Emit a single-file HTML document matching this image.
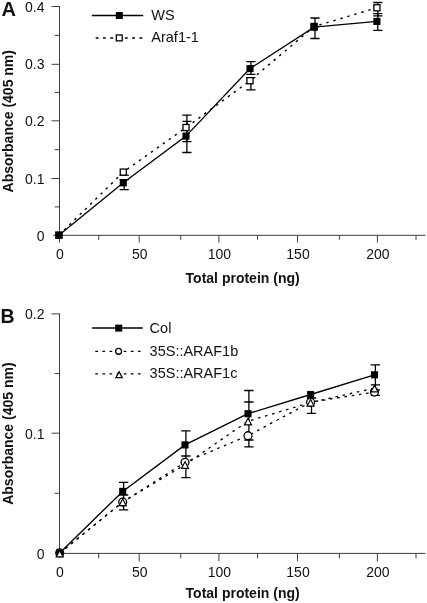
<!DOCTYPE html>
<html lang="en">
<head>
<meta charset="utf-8">
<title>Figure</title>
<style>
html,body{margin:0;padding:0;background:#fff;}
body{width:427px;height:603px;overflow:hidden;}
svg{display:block;will-change:transform;}
text{font-family:"Liberation Sans",sans-serif;fill:#111;}
.t{font-size:14px;}
.l{font-size:14.5px;}
.b{font-size:14px;font-weight:bold;}
.p{font-size:19.5px;font-weight:bold;}
.pa{font-size:20px;}
</style>
</head>
<body>
<svg width="427" height="603" viewBox="0 0 427 603">
<rect width="427" height="603" fill="#fff"/>
<path d="M59.5 6.0 V235.3 M59.0 235.3 H425.5" fill="none" stroke="#3e3e3e" stroke-width="1"/>
<path d="M53.1 235.30 H59.5" stroke="#3e3e3e" stroke-width="1"/>
<text x="44.5" y="240.80" text-anchor="end" class="t">0</text>
<path d="M54.7 206.90 H59.5" stroke="#3e3e3e" stroke-width="1"/>
<path d="M51.5 178.50 H59.5" stroke="#3e3e3e" stroke-width="1"/>
<text x="44.5" y="183.70" text-anchor="end" class="t">0.1</text>
<path d="M54.7 149.65 H59.5" stroke="#3e3e3e" stroke-width="1"/>
<path d="M51.5 120.80 H59.5" stroke="#3e3e3e" stroke-width="1"/>
<text x="44.5" y="126.10" text-anchor="end" class="t">0.2</text>
<path d="M54.7 92.55 H59.5" stroke="#3e3e3e" stroke-width="1"/>
<path d="M51.5 64.30 H59.5" stroke="#3e3e3e" stroke-width="1"/>
<text x="44.5" y="69.20" text-anchor="end" class="t">0.3</text>
<path d="M54.7 35.40 H59.5" stroke="#3e3e3e" stroke-width="1"/>
<path d="M51.5 6.50 H59.5" stroke="#3e3e3e" stroke-width="1"/>
<text x="44.5" y="12.30" text-anchor="end" class="t">0.4</text>
<path d="M59.50 235.3 v7.2" stroke="#3e3e3e" stroke-width="1"/>
<text x="60.00" y="259.20" text-anchor="middle" class="t">0</text>
<path d="M98.70 235.3 v4.5" stroke="#3e3e3e" stroke-width="1"/>
<path d="M139.20 235.3 v7.2" stroke="#3e3e3e" stroke-width="1"/>
<text x="139.70" y="259.20" text-anchor="middle" class="t">50</text>
<path d="M180.70 235.3 v4.5" stroke="#3e3e3e" stroke-width="1"/>
<path d="M218.90 235.3 v7.2" stroke="#3e3e3e" stroke-width="1"/>
<text x="219.40" y="259.20" text-anchor="middle" class="t">100</text>
<path d="M257.50 235.3 v4.5" stroke="#3e3e3e" stroke-width="1"/>
<path d="M297.50 235.3 v7.2" stroke="#3e3e3e" stroke-width="1"/>
<text x="298.00" y="259.20" text-anchor="middle" class="t">150</text>
<path d="M339.40 235.3 v4.5" stroke="#3e3e3e" stroke-width="1"/>
<path d="M377.40 235.3 v7.2" stroke="#3e3e3e" stroke-width="1"/>
<text x="377.90" y="259.20" text-anchor="middle" class="t">200</text>
<path d="M416.00 235.3 v4.5" stroke="#3e3e3e" stroke-width="1"/>
<path d="M58.90 235.20 L123.30 172.10 L186.00 127.50 L250.00 80.70 L314.10 26.50 L376.90 7.80" fill="none" stroke="#000" stroke-width="1.45" stroke-dasharray="2.4 4.9"/>
<path d="M58.90 235.20 L123.30 182.80 L186.00 136.10 L250.00 68.60 L314.10 27.20 L376.90 21.40" fill="none" stroke="#000" stroke-width="1.35"/>
<path d="M124.20 171.00 V175.20 M119.60 175.20 h9.2" fill="none" stroke="#000" stroke-width="1.3"/>
<path d="M186.90 115.10 V141.60 M182.30 115.10 h9.2 M182.30 141.60 h9.2" fill="none" stroke="#000" stroke-width="1.3"/>
<path d="M250.90 77.60 V89.80 M246.30 77.60 h9.2 M246.30 89.80 h9.2" fill="none" stroke="#000" stroke-width="1.3"/>
<path d="M377.80 2.50 V15.90 M373.20 2.50 h9.2 M373.20 15.90 h9.2" fill="none" stroke="#000" stroke-width="1.3"/>
<path d="M124.20 179.60 V189.70 M119.60 179.60 h9.2 M119.60 189.70 h9.2" fill="none" stroke="#000" stroke-width="1.3"/>
<path d="M186.90 121.40 V152.50 M182.30 121.40 h9.2 M182.30 152.50 h9.2" fill="none" stroke="#000" stroke-width="1.3"/>
<path d="M250.90 61.70 V74.40 M246.30 61.70 h9.2 M246.30 74.40 h9.2" fill="none" stroke="#000" stroke-width="1.3"/>
<path d="M315.00 18.00 V38.50 M310.40 18.00 h9.2 M310.40 38.50 h9.2" fill="none" stroke="#000" stroke-width="1.3"/>
<path d="M377.80 13.60 V30.40 M373.20 13.60 h9.2 M373.20 30.40 h9.2" fill="none" stroke="#000" stroke-width="1.3"/>
<rect x="55.85" y="232.15" width="6.1000000000000005" height="6.1000000000000005" fill="#fff" stroke="#000" stroke-width="1.3"/>
<rect x="120.25" y="169.05" width="6.1000000000000005" height="6.1000000000000005" fill="#fff" stroke="#000" stroke-width="1.3"/>
<rect x="182.95" y="124.45" width="6.1000000000000005" height="6.1000000000000005" fill="#fff" stroke="#000" stroke-width="1.3"/>
<rect x="246.95" y="77.65" width="6.1000000000000005" height="6.1000000000000005" fill="#fff" stroke="#000" stroke-width="1.3"/>
<rect x="311.05" y="23.45" width="6.1000000000000005" height="6.1000000000000005" fill="#fff" stroke="#000" stroke-width="1.3"/>
<rect x="373.85" y="4.75" width="6.1000000000000005" height="6.1000000000000005" fill="#fff" stroke="#000" stroke-width="1.3"/>
<rect x="55.35" y="231.65" width="7.1" height="7.1" fill="#000"/>
<rect x="119.75" y="179.25" width="7.1" height="7.1" fill="#000"/>
<rect x="182.45" y="132.55" width="7.1" height="7.1" fill="#000"/>
<rect x="246.45" y="65.05" width="7.1" height="7.1" fill="#000"/>
<rect x="310.55" y="23.65" width="7.1" height="7.1" fill="#000"/>
<rect x="373.35" y="17.85" width="7.1" height="7.1" fill="#000"/>
<path d="M91.8 15.5 H143.2" stroke="#000" stroke-width="1.5"/>
<rect x="115.80" y="12.00" width="7" height="7" fill="#000"/>
<path d="M95.7 38 H142.3" stroke="#000" stroke-width="1.5" stroke-dasharray="2.8 4.5"/>
<rect x="116.30" y="34.95" width="5.9" height="5.9" fill="#fff" stroke="#000" stroke-width="1.3"/>
<text x="151.3" y="20.2" class="l">WS</text>
<text x="151.3" y="42.2" class="l">Araf1-1</text>
<text x="1.4" y="15.8" class="p pa">A</text>
<text x="185.6" y="283.4" class="b">Total protein (ng)</text>
<text transform="translate(12.6 121.2) rotate(-90)" text-anchor="middle" class="b">Absorbance (405 nm)</text>
<path d="M59.5 313.4 V553.4 M59.0 553.4 H425.5" fill="none" stroke="#3e3e3e" stroke-width="1"/>
<text x="44.5" y="559.00" text-anchor="end" class="t">0</text>
<path d="M54.7 493.30 H59.5" stroke="#3e3e3e" stroke-width="1"/>
<path d="M51.5 433.20 H59.5" stroke="#3e3e3e" stroke-width="1"/>
<text x="44.5" y="438.60" text-anchor="end" class="t">0.1</text>
<path d="M54.7 373.55 H59.5" stroke="#3e3e3e" stroke-width="1"/>
<path d="M51.5 313.90 H59.5" stroke="#3e3e3e" stroke-width="1"/>
<text x="44.5" y="319.30" text-anchor="end" class="t">0.2</text>
<text x="60.00" y="576.80" text-anchor="middle" class="t">0</text>
<path d="M98.70 553.4 v5.0" stroke="#3e3e3e" stroke-width="1"/>
<path d="M139.20 553.4 v7.9" stroke="#3e3e3e" stroke-width="1"/>
<text x="139.70" y="576.80" text-anchor="middle" class="t">50</text>
<path d="M180.70 553.4 v5.0" stroke="#3e3e3e" stroke-width="1"/>
<path d="M218.90 553.4 v7.9" stroke="#3e3e3e" stroke-width="1"/>
<text x="219.40" y="576.80" text-anchor="middle" class="t">100</text>
<path d="M257.50 553.4 v5.0" stroke="#3e3e3e" stroke-width="1"/>
<path d="M297.50 553.4 v7.9" stroke="#3e3e3e" stroke-width="1"/>
<text x="298.00" y="576.80" text-anchor="middle" class="t">150</text>
<path d="M339.40 553.4 v5.0" stroke="#3e3e3e" stroke-width="1"/>
<path d="M377.40 553.4 v7.9" stroke="#3e3e3e" stroke-width="1"/>
<text x="377.90" y="576.80" text-anchor="middle" class="t">200</text>
<path d="M416.00 553.4 v5.0" stroke="#3e3e3e" stroke-width="1"/>
<path d="M59.70 552.90 L122.70 502.10 L185.00 462.30 L248.00 435.70 L310.60 402.20 L374.50 392.10" fill="none" stroke="#000" stroke-width="1.3" stroke-dasharray="2.6 4.7"/>
<path d="M59.70 553.30 L122.70 502.00 L185.00 464.70 L248.00 421.20 L310.60 402.50 L374.50 388.20" fill="none" stroke="#000" stroke-width="1.3" stroke-dasharray="2.6 4.7"/>
<path d="M59.70 552.90 L122.70 491.40 L185.00 444.90 L248.00 413.70 L310.60 394.50 L374.50 374.80" fill="none" stroke="#000" stroke-width="1.35"/>
<path d="M123.60 482.40 V509.80 M118.95 482.40 h9.3 M118.95 495.00 h9.3 M118.95 509.80 h9.3" fill="none" stroke="#000" stroke-width="1.3"/>
<path d="M185.90 430.80 V477.70 M181.25 430.80 h9.3 M181.25 456.00 h9.3 M181.25 477.70 h9.3" fill="none" stroke="#000" stroke-width="1.3"/>
<path d="M248.90 390.50 V446.80 M244.25 390.50 h9.3 M244.25 402.00 h9.3 M244.25 440.00 h9.3 M244.25 446.80 h9.3" fill="none" stroke="#000" stroke-width="1.3"/>
<path d="M311.50 394.00 V413.40 M306.85 398.00 h9.3 M306.85 413.40 h9.3" fill="none" stroke="#000" stroke-width="1.3"/>
<path d="M375.40 364.80 V396.00 M370.75 364.80 h9.3 M370.75 384.80 h9.3 M370.75 389.80 h9.3 M370.75 395.30 h9.3" fill="none" stroke="#000" stroke-width="1.3"/>
<circle cx="59.70" cy="552.90" r="3.95" fill="#fff" stroke="#000" stroke-width="1.3"/>
<circle cx="122.70" cy="502.10" r="3.95" fill="#fff" stroke="#000" stroke-width="1.3"/>
<circle cx="185.00" cy="462.30" r="3.95" fill="#fff" stroke="#000" stroke-width="1.3"/>
<circle cx="248.00" cy="435.70" r="3.95" fill="#fff" stroke="#000" stroke-width="1.3"/>
<circle cx="310.60" cy="402.20" r="3.95" fill="#fff" stroke="#000" stroke-width="1.3"/>
<circle cx="374.50" cy="392.10" r="3.95" fill="#fff" stroke="#000" stroke-width="1.3"/>
<rect x="56.15" y="549.35" width="7.1" height="7.1" fill="#000"/>
<rect x="119.15" y="487.85" width="7.1" height="7.1" fill="#000"/>
<rect x="181.45" y="441.35" width="7.1" height="7.1" fill="#000"/>
<rect x="244.45" y="410.15" width="7.1" height="7.1" fill="#000"/>
<rect x="307.05" y="390.95" width="7.1" height="7.1" fill="#000"/>
<rect x="370.95" y="371.25" width="7.1" height="7.1" fill="#000"/>
<path d="M59.70 550.38 L63.20 556.88 L56.20 556.88 Z" fill="#fff" stroke="#000" stroke-width="1.2" stroke-linejoin="miter"/>
<path d="M122.70 499.08 L126.20 505.58 L119.20 505.58 Z" fill="#fff" stroke="#000" stroke-width="1.2" stroke-linejoin="miter"/>
<path d="M185.00 461.78 L188.50 468.28 L181.50 468.28 Z" fill="#fff" stroke="#000" stroke-width="1.2" stroke-linejoin="miter"/>
<path d="M248.00 418.28 L251.50 424.78 L244.50 424.78 Z" fill="#fff" stroke="#000" stroke-width="1.2" stroke-linejoin="miter"/>
<path d="M310.60 399.58 L314.10 406.08 L307.10 406.08 Z" fill="#fff" stroke="#000" stroke-width="1.2" stroke-linejoin="miter"/>
<path d="M374.50 385.28 L378.00 391.78 L371.00 391.78 Z" fill="#fff" stroke="#000" stroke-width="1.2" stroke-linejoin="miter"/>
<path d="M92.1 328.1 H142.7" stroke="#000" stroke-width="1.5"/>
<rect x="115.20" y="324.60" width="7" height="7" fill="#000"/>
<path d="M95.3 351.3 H141.3" stroke="#000" stroke-width="1.35" stroke-dasharray="2.7 4.4"/>
<circle cx="118.60" cy="351.30" r="2.95" fill="#fff" stroke="#000" stroke-width="1.3"/>
<path d="M95.3 373.9 H141.3" stroke="#000" stroke-width="1.35" stroke-dasharray="2.7 4.4"/>
<path d="M119.10 371.76 L122.25 377.56 L115.95 377.56 Z" fill="#fff" stroke="#000" stroke-width="1.3" stroke-linejoin="miter"/>
<text x="149.6" y="332.8" class="l">Col</text>
<text x="149.6" y="355.5" class="l">35S::ARAF1b</text>
<text x="149.6" y="378.1" class="l">35S::ARAF1c</text>
<text x="0.6" y="323" class="p">B</text>
<text x="185.6" y="598.3" class="b">Total protein (ng)</text>
<text transform="translate(12.6 433.6) rotate(-90)" text-anchor="middle" class="b">Absorbance (405 nm)</text>
</svg>
</body>
</html>
